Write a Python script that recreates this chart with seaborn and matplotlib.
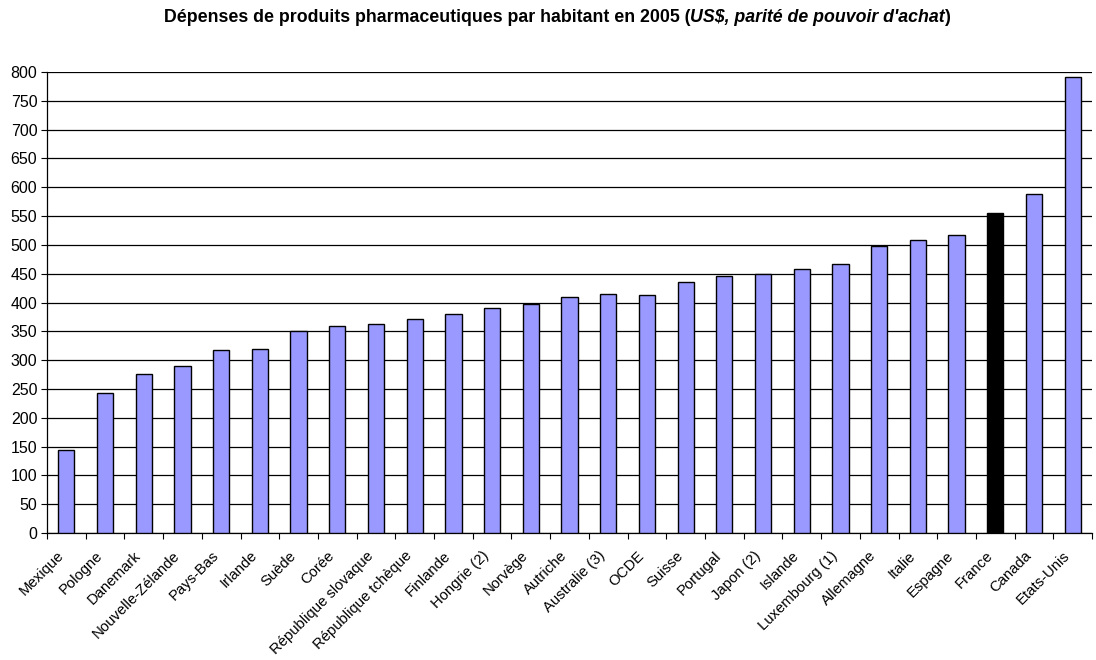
import matplotlib
matplotlib.use("Agg")
import matplotlib.pyplot as plt
import matplotlib.transforms as mtransforms
import seaborn as sns
import pandas as pd
from matplotlib.ticker import FixedLocator

countries = ["Mexique", "Pologne", "Danemark", "Nouvelle-Zélande", "Pays-Bas", "Irlande",
             "Suède", "Corée", "République slovaque", "République tchèque", "Finlande",
             "Hongrie (2)", "Norvège", "Autriche", "Australie (3)", "OCDE", "Suisse",
             "Portugal", "Japon (2)", "Islande", "Luxembourg (1)", "Allemagne", "Italie",
             "Espagne", "France", "Canada", "Etats-Unis"]
values = [144, 243, 276, 290, 318, 320, 351, 360, 362, 372, 380, 390, 398, 410, 415, 413,
          436, 446, 449, 458, 466, 498, 509, 517, 555, 589, 792]
highlight = ["France"]
y_ticks = list(range(0, 801, 50))

sns.set_theme(style="white")
plt.rcParams['font.family'] = ['Liberation Sans', 'DejaVu Sans']
plt.rcParams['text.color'] = 'black'
plt.rcParams['xtick.color'] = 'black'
plt.rcParams['ytick.color'] = 'black'
plt.rcParams['xtick.labelcolor'] = 'black'
plt.rcParams['ytick.labelcolor'] = 'black'

df = pd.DataFrame({"pays": countries, "valeur": values})
df["groupe"] = ["hl" if c in highlight else "std" for c in countries]

fig = plt.figure(figsize=(10.96, 6.6), dpi=100)
ax = fig.add_axes([0.0429, 0.1924, 0.9535, 0.6985])

sns.barplot(data=df, x="pays", y="valeur", hue="groupe",
            palette={"std": "#9999FF", "hl": "#000000"}, dodge=False, saturation=1,
            width=0.42, edgecolor="black", linewidth=1.0, legend=False, ax=ax, zorder=3)

ax.set_ylim(0, 800)
ax.set_xlim(-0.5, len(countries) - 0.5)
ax.set_yticks(y_ticks)
ax.set_yticklabels([str(t) for t in y_ticks], fontsize=11.5, color="black")
ax.yaxis.grid(True, color="black", linewidth=0.9)
ax.set_axisbelow(True)
ax.set_xlabel("")
ax.set_ylabel("")

ax.set_xticks(range(len(countries)))
ax.set_xticklabels(countries, rotation=45, ha="right", rotation_mode="anchor",
                   fontsize=10.7, color="black")
ax.tick_params(axis="x", length=0, pad=9)
ax.xaxis.set_minor_locator(FixedLocator([i + 0.5 for i in range(-1, len(countries))]))
ax.tick_params(axis="x", which="minor", length=4, direction="out", color="black", width=0.8, bottom=True)
ax.tick_params(axis="y", length=4, direction="out", color="black", width=0.8, left=True, pad=3)

offset = mtransforms.ScaledTranslation(-10 / 100, -3 / 100, fig.dpi_scale_trans)
for lab in ax.get_xticklabels():
    lab.set_transform(lab.get_transform() + offset)

for s in ["top", "right"]:
    ax.spines[s].set_visible(False)
for s in ["left", "bottom"]:
    ax.spines[s].set_color("black")
    ax.spines[s].set_linewidth(0.9)

# Title in pieces (bold + bold italic)
fs = 12.8
t1 = fig.text(0.5, 0.966, "Dépenses de produits pharmaceutiques par habitant en 2005 (",
              fontsize=fs, fontweight="bold", ha="left", va="baseline", color="black")
t2 = ax.annotate("US$, parité de pouvoir d'achat", xy=(1, 0), xycoords=t1,
                 fontsize=fs, fontweight="bold", style="italic", ha="left", va="bottom", color="black")
t3 = ax.annotate(")", xy=(1, 0), xycoords=t2, fontsize=fs, fontweight="bold",
                 ha="left", va="bottom", color="black")
fig.canvas.draw()
r = fig.canvas.get_renderer()
w = sum(t.get_window_extent(r).width for t in (t1, t2, t3))
x0 = (1096 / 2 - w / 2 + 9) / 1096
t1.set_x(x0)

fig.savefig("out.png", dpi=100)
